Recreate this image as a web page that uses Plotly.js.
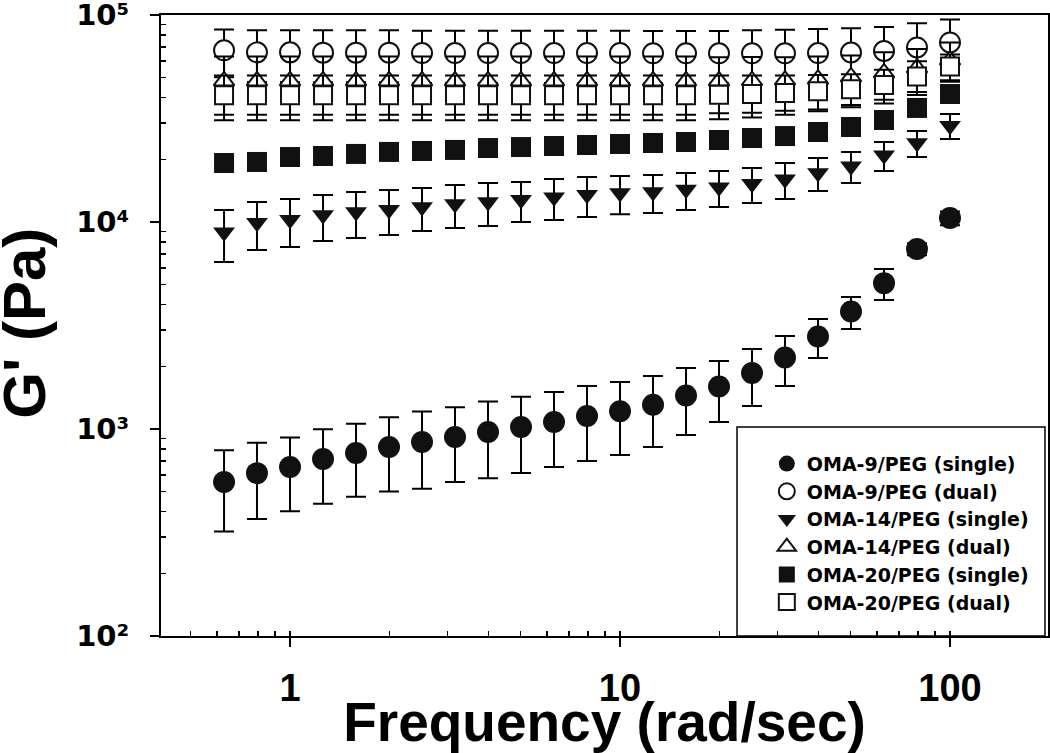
<!DOCTYPE html>
<html>
<head>
<meta charset="utf-8">
<script src="https://cdn.plot.ly/plotly-3.0.1.min.js"></script>
<style>html,body{margin:0;padding:0;background:#fff;}#chart{width:1050px;height:753px;}</style>
</head>
<body>
<div id="chart"></div>
<script>
// Frequency (rad/sec)
const freq = [0.631, 0.794, 1.0, 1.259, 1.585, 1.995, 2.512, 3.162, 3.981, 5.012, 6.310, 7.943,
              10.0, 12.59, 15.85, 19.95, 25.12, 31.62, 39.81, 50.12, 63.10, 79.43, 100.0];

// OMA-9/PEG (single)
const oma9Single    = [555, 612, 655, 716, 766, 819, 865, 914, 968, 1023, 1082, 1156,
                       1218, 1311, 1453, 1606, 1863, 2214, 2801, 3692, 5065, 7400, 10450];
const oma9SingleErr = [235, 245, 255, 280, 295, 320, 350, 360, 390, 410, 427, 456,
                       469, 492, 518, 525, 572, 600, 599, 650, 865, 500, 800];

// OMA-9/PEG (dual)
const oma9Dual      = [67500, 66000, 66000, 65800, 65800, 65800, 65500, 65500, 65500, 65500, 65500, 65500,
                       65500, 65300, 65300, 65300, 65300, 65300, 65500, 65900, 67000, 69700, 73700];
const oma9DualErr   = [17500, 18500, 18500, 18500, 18500, 18500, 18500, 18500, 18500, 18500, 18500, 18500,
                       18500, 18500, 18500, 18500, 19000, 19500, 20000, 20500, 20500, 21500, 21500];

// OMA-14/PEG (single)
const oma14Single    = [8920, 9908, 10243, 10798, 11165, 11464, 11822, 12222, 12497, 12800, 13179, 13534,
                        13800, 13960, 14339, 14727, 15295, 16095, 17251, 18610, 20993, 24065, 29208];
const oma14SingleErr = [2510, 2586, 2672, 2704, 2796, 2812, 2775, 2868, 2933, 2800, 2953, 2962,
                        2900, 2910, 2910, 2910, 2942, 3180, 3133, 3180, 3355, 3456, 4028];

// OMA-14/PEG (dual)
const oma14Dual      = [48000, 48000, 48000, 48000, 48000, 48000, 48000, 48000, 48000, 48000, 48000, 48000,
                        48000, 48000, 48000, 48000, 48200, 48500, 49000, 50200, 52500, 55500, 60600];
const oma14DualErr   = [15000, 15000, 15000, 15000, 15000, 15000, 15000, 15000, 15000, 15000, 15000, 15000,
                        15000, 15000, 15000, 14500, 14500, 14000, 14000, 13500, 13500, 13000, 13000];

// OMA-20/PEG (single)
const oma20Single    = [19280, 19500, 20600, 20840, 21320, 21800, 22030, 22290, 22770, 23020, 23290, 23550,
                        23820, 24080, 24350, 24890, 25450, 26010, 27210, 28770, 31110, 35560, 41520];

// OMA-20/PEG (dual)
const oma20Dual      = [41000, 41000, 41000, 41000, 41000, 41000, 41000, 41000, 41000, 41000, 41000, 41000,
                        41000, 41000, 41000, 41200, 41500, 42000, 42800, 43800, 45900, 50450, 56390];
const oma20DualErr   = [10000, 10000, 10000, 10000, 10000, 10000, 10000, 10000, 10000, 10000, 10000, 10000,
                        10000, 10000, 10000, 9800, 9500, 9000, 8500, 8000, 8500, 9400, 8000];

const seriesNames = ["OMA-9/PEG (single)", "OMA-9/PEG (dual)", "OMA-14/PEG (single)",
                     "OMA-14/PEG (dual)", "OMA-20/PEG (single)", "OMA-20/PEG (dual)"];

// Y tick labels
const yTickVals = [100, 1000, 10000, 100000];
const yTickText = ["10²", "10³", "10⁴", "10⁵"];

// minor tick positions of the y axis (2..9 in each decade)
const yMinorVals = [];
for (let k = 2; k <= 4; k++) for (let d = 2; d <= 9; d++) yMinorVals.push(d * Math.pow(10, k));

const FONT = "Liberation Sans, Arial, Helvetica, sans-serif";
const WIDE = "DejaVu Sans, Verdana, sans-serif";

function errBar(arr) {
  return {type: 'data', array: arr, visible: true, color: 'black', thickness: 2, width: 10};
}

const traces = [
  {name: seriesNames[0], x: freq, y: oma9Single, error_y: errBar(oma9SingleErr),
   marker: {symbol: 'circle', size: 22, color: '#111', line: {width: 0}}},
  {name: seriesNames[1], x: freq, y: oma9Dual, error_y: errBar(oma9DualErr),
   marker: {symbol: 'circle', size: 20, color: 'white', line: {color: '#111', width: 2}}},
  {name: seriesNames[2], x: freq, y: oma14Single, error_y: errBar(oma14SingleErr),
   marker: {symbol: 'triangle-down', size: 19, color: '#111', line: {width: 0}}},
  {name: seriesNames[3], x: freq, y: oma14Dual, error_y: errBar(oma14DualErr),
   marker: {symbol: 'triangle-up', size: 18, color: 'white', line: {color: '#111', width: 2}}},
  {name: seriesNames[4], x: freq, y: oma20Single,
   marker: {symbol: 'square', size: 20, color: '#111', line: {width: 0}}},
  {name: seriesNames[5], x: freq, y: oma20Dual, error_y: errBar(oma20DualErr),
   marker: {symbol: 'square', size: 18, color: 'white', line: {color: '#111', width: 2}}}
].map((t, i) => Object.assign({type: 'scatter', mode: 'markers', legendgroup: 'g' + i, cliponaxis: false}, t));

const axisCommon = {
  type: 'log', showline: true, linecolor: 'black', linewidth: 2, mirror: true,
  showgrid: false, zeroline: false,
  ticks: 'outside', ticklen: 9, tickwidth: 2, tickcolor: 'black',
  ticklabeloverflow: 'allow',
  automargin: false
};

const layout = {
  width: 1050, height: 753,
  margin: {l: 161, r: 2, t: 15, b: 117},
  paper_bgcolor: 'white', plot_bgcolor: 'white',
  font: {family: FONT, color: 'black'},
  showlegend: true,
  xaxis: Object.assign({}, axisCommon, {
    range: [-0.391, 2.297],
    dtick: 1,
    minor: {ticks: 'inside', ticklen: 5, tickwidth: 1.5, tickcolor: 'black', showgrid: false},
    tickfont: {family: FONT, size: 38, weight: 'bold', color: 'black'},
    ticklabelstandoff: 8,
    title: {text: 'Frequency (rad/sec)', font: {family: FONT, size: 55, weight: 'bold', color: 'black'}, standoff: 18}
  }),
  yaxis: Object.assign({}, axisCommon, {
    range: [2, 5],
    tickmode: 'array', tickvals: yTickVals, ticktext: yTickText,
    minor: {tickmode: 'array', tickvals: yMinorVals, ticks: 'inside', ticklen: 5, tickwidth: 1.5, tickcolor: 'black', showgrid: false},
    tickfont: {family: WIDE, size: 29, weight: 'bold', color: 'black'},
    ticklabelstandoff: 15
  }),
  annotations: [{
    text: "G' (Pa)", xref: 'paper', yref: 'paper', x: -0.1533, y: 0.503,
    xanchor: 'center', yanchor: 'middle', textangle: -90, showarrow: false,
    font: {family: FONT, size: 60, weight: 'bold', color: 'black'}
  }],
  legend: {
    x: 0.683, y: 0.308, xanchor: 'left', yanchor: 'top',
    bgcolor: 'rgba(0,0,0,0)', borderwidth: 0,
    traceorder: 'grouped', tracegroupgap: 0,
    font: {family: WIDE, size: 19, weight: 'bold', color: 'black'}
  },
  shapes: [{
    type: 'rect', xref: 'paper', yref: 'paper',
    x0: 0.6494, x1: 0.9966, y0: 0, y1: 0.3366,
    line: {color: 'black', width: 1.5}, fillcolor: 'white', layer: 'below'
  }]
};

Plotly.newPlot('chart', traces, layout, {displayModeBar: false, staticPlot: true});
</script>
</body>
</html>
